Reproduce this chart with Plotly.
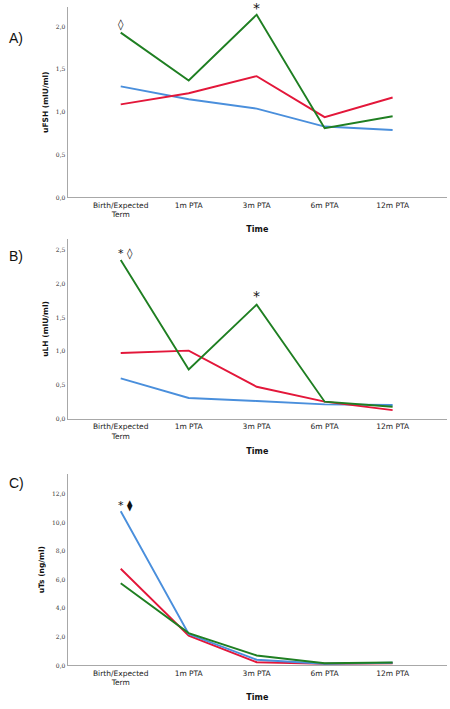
import plotly.graph_objects as go

categories = ["Birth/Expected<br>Term", "1m PTA", "3m PTA", "6m PTA", "12m PTA"]

# Panel A: uFSH (mIU/ml)
fsh_green = [1.93, 1.37, 2.14, 0.81, 0.95]
fsh_red = [1.09, 1.22, 1.42, 0.94, 1.17]
fsh_blue = [1.30, 1.15, 1.04, 0.83, 0.79]

# Panel B: uLH (mIU/ml)
lh_green = [2.35, 0.73, 1.69, 0.255, 0.18]
lh_red = [0.975, 1.01, 0.475, 0.255, 0.13]
lh_blue = [0.60, 0.31, 0.265, 0.215, 0.205]

# Panel C: uTs (ng/ml)
ts_blue = [10.79, 2.20, 0.40, 0.12, 0.19]
ts_red = [6.77, 2.09, 0.23, 0.12, 0.16]
ts_green = [5.75, 2.27, 0.70, 0.16, 0.21]

GREEN = "#1f7f22"
RED = "#e3173a"
BLUE = "#4a8fdc"

fig = go.Figure()

panels = [
    ("", [(fsh_blue, BLUE), (fsh_red, RED), (fsh_green, GREEN)]),
    ("2", [(lh_blue, BLUE), (lh_red, RED), (lh_green, GREEN)]),
    ("3", [(ts_red, RED), (ts_blue, BLUE), (ts_green, GREEN)]),
]
for suffix, series in panels:
    for vals, col in series:
        fig.add_trace(go.Scatter(
            x=categories, y=vals, mode="lines",
            line=dict(color=col, width=1.9),
            xaxis="x" + suffix, yaxis="y" + suffix,
            showlegend=False, hoverinfo="skip",
        ))

H = 709.0
W = 450.0
xdom = [67.7 / W, 447.0 / W]

def ydom(top, bottom):
    return [1 - bottom / H, 1 - top / H]

axis_line = dict(showline=True, linecolor="#a8a8a8", linewidth=1.2, showgrid=False,
                 zeroline=False, ticks="")
tickfont_y = dict(family="DejaVu Serif", size=6, color="#333333")
tickfont_x = dict(family="DejaVu Sans", size=7.5, color="#1a1a1a")
titlefont = dict(family="DejaVu Sans", size=7.5, color="#111111")

yaxes = [
    ("yaxis", "x", ydom(7, 198.3), [0, 2.23], 0.5, "<b>uFSH (mIU/ml)</b>"),
    ("yaxis2", "x2", ydom(240, 420.7), [0, 2.66], 0.5, "<b>uLH (mIU/ml)</b>"),
    ("yaxis3", "x3", ydom(476, 668.3), [0, 13.4], 2, "<b>uTs (ng/ml)</b>"),
]
xaxes = [("xaxis", "y"), ("xaxis2", "y2"), ("xaxis3", "y3")]

layout = dict(
    width=450, height=709,
    margin=dict(l=0, r=0, t=0, b=0),
    paper_bgcolor="white", plot_bgcolor="white",
    separators=",.",
)
for (name, anchor, dom, rng, dt, title) in yaxes:
    layout[name] = dict(domain=dom, anchor=anchor, range=rng, dtick=dt, tick0=0,
                        tickformat=".1f", tickfont=tickfont_y,
                        title=dict(text=title, font=titlefont, standoff=6),
                        **axis_line)
for (name, anchor), (_, _, dom, _, _, _) in zip(xaxes, yaxes):
    layout[name] = dict(domain=xdom, anchor=anchor, type="category",
                        range=[-0.78, 4.8], tickfont=tickfont_x,
                        title=dict(text="<b>Time</b>", font=dict(family="DejaVu Sans", size=8, color="#111111"), standoff=8),
                        **axis_line)

fig.update_layout(**layout)

ann_font = dict(family="DejaVu Sans", size=11, color="#111111")
star_font = dict(family="DejaVu Sans", size=14, color="#111111")
annotations = [
    dict(x=categories[0], y=2.02, xref="x", yref="y", text="◊", showarrow=False, font=ann_font),
    dict(x=categories[2], y=fsh_green[2], xref="x", yref="y", text="*", showarrow=False, font=star_font, yshift=7),
    dict(x=categories[0], y=2.44, xref="x2", yref="y2", text="* ◊", showarrow=False, font=ann_font, xshift=5),
    dict(x=categories[2], y=1.82, xref="x2", yref="y2", text="*", showarrow=False, font=star_font),
    dict(x=categories[0], y=11.18, xref="x3", yref="y3", text="* ⧫", showarrow=False, font=ann_font, xshift=5),
]
for lab, ypx in [("A)", 28), ("B)", 257), ("C)", 495)]:
    annotations.append(dict(x=7 / W, y=1 - ypx / H, xref="paper", yref="paper", text=lab,
                            xanchor="left", showarrow=False,
                            font=dict(family="Liberation Sans", size=14, color="#111111")))
fig.update_layout(annotations=annotations)

fig.write_html("out.html", config={"displayModeBar": False},
               post_script="document.body.style.margin='0';")
